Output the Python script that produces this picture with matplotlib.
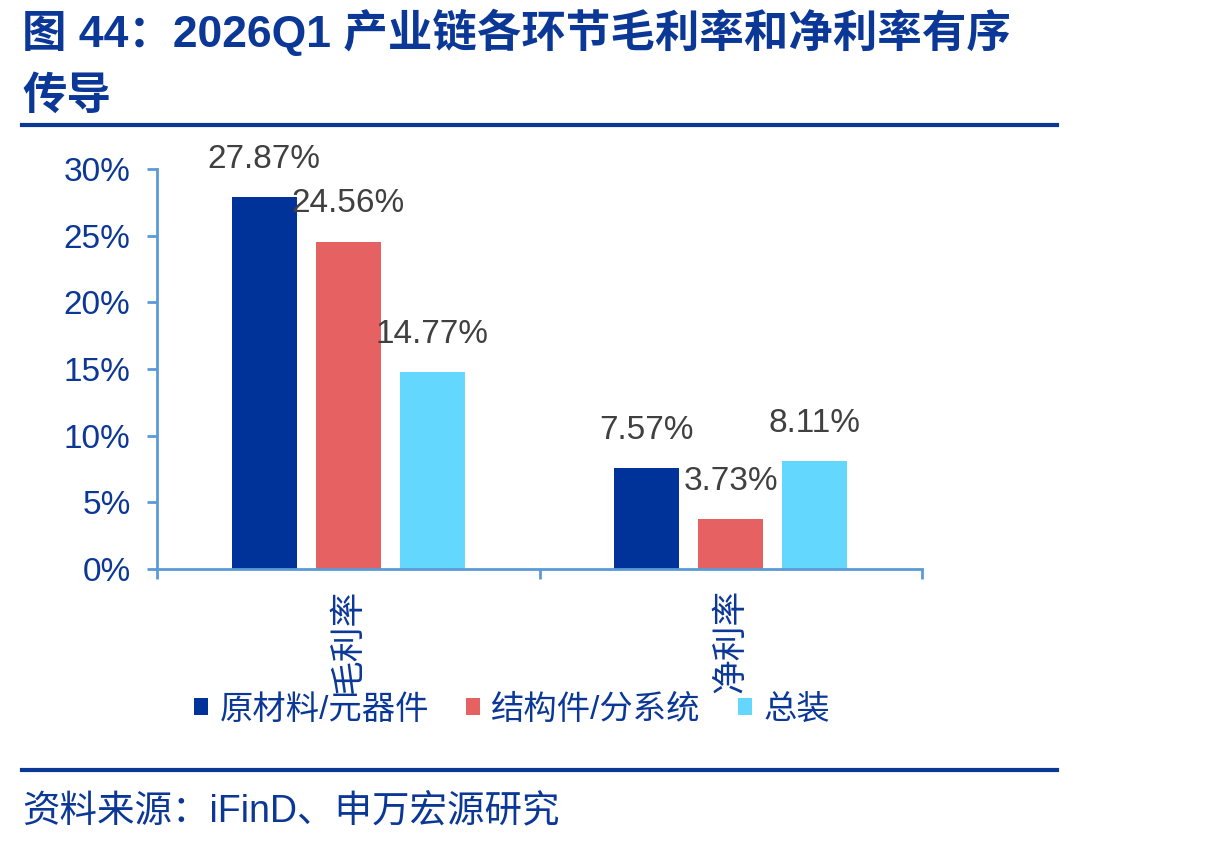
import matplotlib.pyplot as plt
from matplotlib.patches import Patch
from matplotlib.lines import Line2D

plt.rcParams['font.family'] = ['Liberation Sans', 'Noto Sans CJK SC']

categories = ['毛利率', '净利率']
series_names = ['原材料/元器件', '结构件/分系统', '总装']
values = {
    '原材料/元器件': [27.87, 7.57],
    '结构件/分系统': [24.56, 3.73],
    '总装': [14.77, 8.11],
}
y_ticks = [0, 5, 10, 15, 20, 25, 30]

colors = ['#003399', '#E66161', '#63D7FE']
text_blue = '#0B3797'
axis_blue = '#5B9BD5'

fig = plt.figure(figsize=(12.29, 8.46), dpi=100)
ax = fig.add_axes([157 / 1229, 1 - 569 / 846, (922 - 157) / 1229, 400 / 846])

bar_w = 0.17
step = 0.22
for j, name in enumerate(series_names):
    xs = [i + (j - 1) * step for i in range(len(categories))]
    ax.bar(xs, values[name], width=bar_w, color=colors[j], zorder=2)
    for x, v in zip(xs, values[name]):
        ax.annotate(f'{v:.2f}%', xy=(x, v), xytext=(0, 16), textcoords='offset points',
                    ha='center', va='bottom', fontsize=24, color='#404040')

ax.set_xlim(-0.5, 1.5)
ax.set_ylim(0, 30)
ax.set_yticks(y_ticks)
ax.set_yticklabels([f'{t}%' for t in y_ticks], fontsize=24, color=text_blue)
ax.set_xticks([-0.5, 0.5, 1.5])
ax.set_xticklabels([])
for s in ['top', 'right']:
    ax.spines[s].set_visible(False)
for s in ['left', 'bottom']:
    ax.spines[s].set_color(axis_blue)
    ax.spines[s].set_linewidth(2)
ax.tick_params(axis='both', colors=axis_blue, width=2, length=7, labelcolor=text_blue)
ax.tick_params(axis='y', pad=12)

for i, c in enumerate(categories):
    ax.annotate(c, xy=(i, 0), xytext=(0, -14), textcoords='offset points',
                rotation=90, ha='center', va='top', fontsize=25, color=text_blue)

handles = [Patch(facecolor=colors[j], edgecolor='none') for j in range(3)]
fig.legend(handles, series_names, loc='center', bbox_to_anchor=(512 / 1229, 1 - 710 / 846),
           ncol=3, frameon=False, fontsize=24, handlelength=0.42, handleheight=0.42,
           handletextpad=0.35, columnspacing=1.1, labelcolor=text_blue)

# title and rules
fig.text(22 / 1229, 1 - 32 / 846, '图 44：2026Q1 产业链各环节毛利率和净利率有序',
         fontsize=32, fontweight='bold', color=text_blue, va='center', ha='left')
fig.text(22 / 1229, 1 - 97 / 846, '传导',
         fontsize=32, fontweight='bold', color=text_blue, va='center', ha='left')
fig.add_artist(Line2D([22 / 1229, 1057 / 1229], [1 - 125 / 846, 1 - 125 / 846],
                      color='#0B3797', linewidth=3, transform=fig.transFigure))
fig.add_artist(Line2D([22 / 1229, 1057 / 1229], [1 - 770 / 846, 1 - 770 / 846],
                      color='#0B3797', linewidth=3, transform=fig.transFigure))
fig.text(22 / 1229, 1 - 812 / 846, '资料来源：iFinD、申万宏源研究',
         fontsize=27, color=text_blue, va='center', ha='left')

fig.savefig('out.png', dpi=100)
